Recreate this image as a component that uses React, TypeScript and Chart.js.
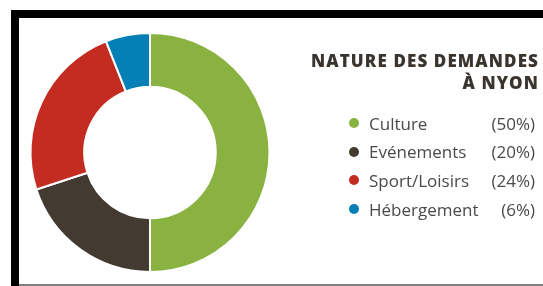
import React, { useEffect, useRef } from "react";
import { Chart, registerables } from "chart.js";

Chart.register(...registerables);

const categories = ["Culture", "Evénements", "Sport/Loisirs", "Hébergement"];
const values = [50, 20, 24, 6];
const colors = ["#8ab241", "#433b32", "#c42c22", "#0480b6"];
const titleLines = ["NATURE DES DEMANDES", "À NYON"];

export default function App() {
  const ref = useRef<HTMLCanvasElement | null>(null);

  useEffect(() => {
    document.body.style.margin = "0";
    if (!ref.current) return;
    const chart = new Chart(ref.current, {
      type: "doughnut",
      data: {
        labels: categories,
        datasets: [
          {
            data: values,
            backgroundColor: colors,
            borderColor: "#ffffff",
            borderWidth: 2,
          },
        ],
      },
      options: {
        animation: false,
        responsive: false,
        cutout: "55%",
        layout: { padding: { left: 29, top: 32, right: 272, bottom: 13 } },
        plugins: {
          legend: { display: false },
          tooltip: { enabled: false },
        },
      },
    });
    return () => chart.destroy();
  }, []);

  const font = "'Open Sans', Lato, sans-serif";

  return (
    <div style={{ position: "absolute", left: 0, top: 0, width: 543, height: 286, background: "#fff", overflow: "hidden" }}>
      <canvas ref={ref} width={543} height={286} style={{ position: "absolute", left: 0, top: 0 }} />
      {/* frame */}
      <div style={{ position: "absolute", left: 11, top: 10, width: 532, height: 8, background: "#000" }} />
      <div style={{ position: "absolute", left: 11, top: 10, width: 8, height: 276, background: "#000" }} />
      <div style={{ position: "absolute", left: 19, top: 284, width: 524, height: 2, background: "#808080" }} />
      {/* title */}
      <div
        style={{
          position: "absolute",
          right: 4,
          top: 50,
          textAlign: "right",
          fontFamily: font,
          fontWeight: 800,
          fontSize: 17,
          lineHeight: "22px",
          letterSpacing: 1.1,
          color: "#3a342f",
          whiteSpace: "nowrap",
        }}
      >
        {titleLines.map((t, i) => (
          <div key={i}>{t}</div>
        ))}
      </div>
      {/* legend */}
      {categories.map((c, i) => (
        <div
          key={c}
          style={{
            position: "absolute",
            left: 346,
            top: 109 + i * 28.7,
            width: 189,
            height: 28,
            display: "flex",
            alignItems: "center",
            fontFamily: font,
            fontSize: 17,
            color: "#4a4a4a",
            whiteSpace: "nowrap",
          }}
        >
          <span
            style={{
              display: "inline-block",
              width: 10,
              height: 10,
              borderRadius: "50%",
              background: colors[i],
              marginLeft: 3,
              marginRight: 10,
            }}
          />
          <span style={{ flex: 1 }}>{c}</span>
          <span>({values[i]}%)</span>
        </div>
      ))}
    </div>
  );
}
